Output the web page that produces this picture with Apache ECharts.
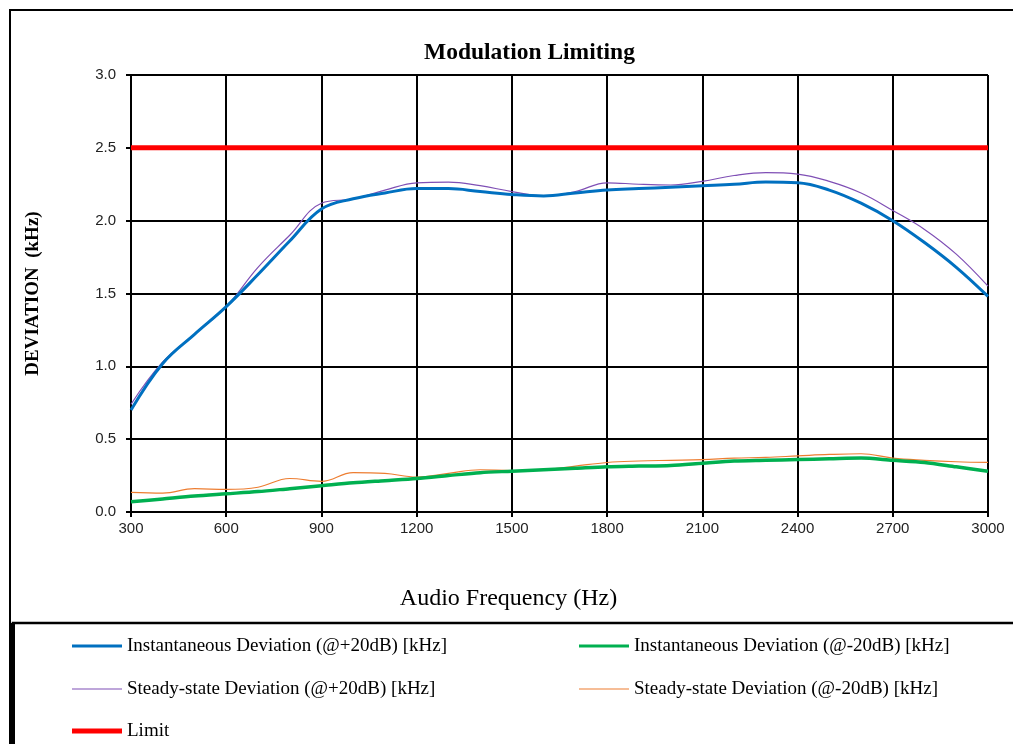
<!DOCTYPE html>
<html><head><meta charset="utf-8">
<script src="https://cdn.jsdelivr.net/npm/echarts@6/dist/echarts.min.js"></script>
<style>html,body{margin:0;padding:0;background:#fff}#c{width:1013px;height:744px}</style>
</head><body><div id="c"></div>
<script>
const freqs = [300,400,500,600,700,800,900,1000,1100,1200,1300,1400,1500,1600,1700,1800,1900,2000,2100,2200,2300,2400,2500,2600,2700,2800,2900,3000];
const instPlus  = [0.70,1.02,1.22,1.41,1.63,1.86,2.08,2.15,2.19,2.22,2.22,2.20,2.18,2.17,2.19,2.21,2.22,2.23,2.24,2.25,2.265,2.26,2.21,2.12,2.00,1.85,1.68,1.48];
const steadyPlus= [0.74,1.03,1.22,1.41,1.68,1.90,2.12,2.15,2.21,2.26,2.265,2.24,2.20,2.17,2.20,2.26,2.25,2.245,2.27,2.31,2.33,2.32,2.27,2.19,2.07,1.94,1.77,1.55];
const instMinus = [0.07,0.09,0.11,0.125,0.14,0.16,0.18,0.20,0.215,0.23,0.25,0.27,0.28,0.29,0.30,0.31,0.315,0.32,0.335,0.35,0.355,0.36,0.365,0.37,0.355,0.34,0.31,0.28];
const steadyMinus=[0.135,0.13,0.16,0.155,0.17,0.23,0.21,0.27,0.265,0.24,0.265,0.29,0.285,0.29,0.315,0.34,0.35,0.355,0.36,0.37,0.375,0.385,0.395,0.40,0.37,0.355,0.345,0.34];
const limitX = [300,3000];
const limitY = [2.5,2.5];
const names = ['Instantaneous Deviation (@+20dB) [kHz]','Instantaneous Deviation (@-20dB) [kHz]','Steady-state Deviation (@+20dB) [kHz]','Steady-state Deviation (@-20dB) [kHz]','Limit'];

const pair = (xs, ys) => xs.map((x,i)=>[x, ys[i]]);
const chart = echarts.init(document.getElementById('c'));
const serif = 'Liberation Serif';
const legendText = {fontFamily: serif, fontSize: 19, color:'#000', lineHeight:20};
function lg(name, left, centerY, h){
  return {data:[name], left:left, top:centerY-10, padding:0, icon:'rect', itemWidth:50, itemHeight:h, itemGap:2, textStyle:legendText, selectedMode:false};
}
chart.setOption({
  animation:false,
  title:{text:'Modulation Limiting', left:424, top:41, padding:0, textStyle:{fontFamily:serif, fontSize:23.5, fontWeight:'bold', color:'#000'}},
  graphic:[
    {type:'rect', shape:{x:10, y:10, width:1020, height:760}, style:{fill:'none', stroke:'#000', lineWidth:2}, silent:true},
    {type:'rect', shape:{x:13, y:623, width:1020, height:200}, style:{fill:'none', stroke:'#000', lineWidth:2.5}, silent:true},
    {type:'line', shape:{x1:13, y1:623, x2:13, y2:744}, style:{stroke:'#000', lineWidth:4}, silent:true}
  ],
  legend:[
    lg(names[0], 72, 646, 3),
    lg(names[1], 579, 646, 3),
    lg(names[2], 72, 689, 1),
    lg(names[3], 579, 689, 1),
    lg(names[4], 72, 731, 5)
  ],
  grid:{left:131, right:25, top:75, bottom:232, containLabel:false},
  xAxis:{type:'value', min:300, max:3000, interval:300,
    name:'Audio Frequency (Hz)', nameLocation:'middle', nameGap:75,
    nameTextStyle:{fontFamily:serif, fontSize:24, color:'#000', padding:[0,102,0,0]},
    axisLine:{show:true, lineStyle:{color:'#000', width:2}},
    axisTick:{show:true, length:5, lineStyle:{color:'#000', width:2}},
    axisLabel:{fontFamily:'Liberation Sans', fontSize:15, color:'#222', margin:9, formatter:v=>String(v)},
    splitLine:{show:true, lineStyle:{color:'#000', width:2}}},
  yAxis:{type:'value', min:0, max:3, interval:0.5,
    name:'DEVIATION  (kHz)', nameLocation:'middle', nameGap:88, nameRotate:90,
    nameTextStyle:{fontFamily:serif, fontSize:19, fontWeight:'bold', color:'#000'},
    axisLine:{show:true, lineStyle:{color:'#000', width:2}},
    axisTick:{show:true, length:5, lineStyle:{color:'#000', width:2}},
    axisLabel:{fontFamily:'Liberation Sans', fontSize:15, color:'#222', margin:15, formatter:v=>v.toFixed(1)},
    splitLine:{show:true, lineStyle:{color:'#000', width:2}}},
  series:[
    {name:names[4], type:'line', data:pair(limitX, limitY), symbol:'none', lineStyle:{color:'#FF0000', width:5}, itemStyle:{color:'#FF0000'}},
    {name:names[3], type:'line', data:pair(freqs, steadyMinus), smooth:0.4, symbol:'none', lineStyle:{color:'#ED7D31', width:1.2}, itemStyle:{color:'#ED7D31'}},
    {name:names[1], type:'line', data:pair(freqs, instMinus), smooth:0.3, symbol:'none', lineStyle:{color:'#00B050', width:3.5}, itemStyle:{color:'#00B050'}},
    {name:names[2], type:'line', data:pair(freqs, steadyPlus), smooth:0.4, symbol:'none', lineStyle:{color:'#7F4FB5', width:1.2}, itemStyle:{color:'#7F4FB5'}},
    {name:names[0], type:'line', data:pair(freqs, instPlus), smooth:0.4, symbol:'none', lineStyle:{color:'#0070C0', width:3}, itemStyle:{color:'#0070C0'}}
  ]
});
</script></body></html>
